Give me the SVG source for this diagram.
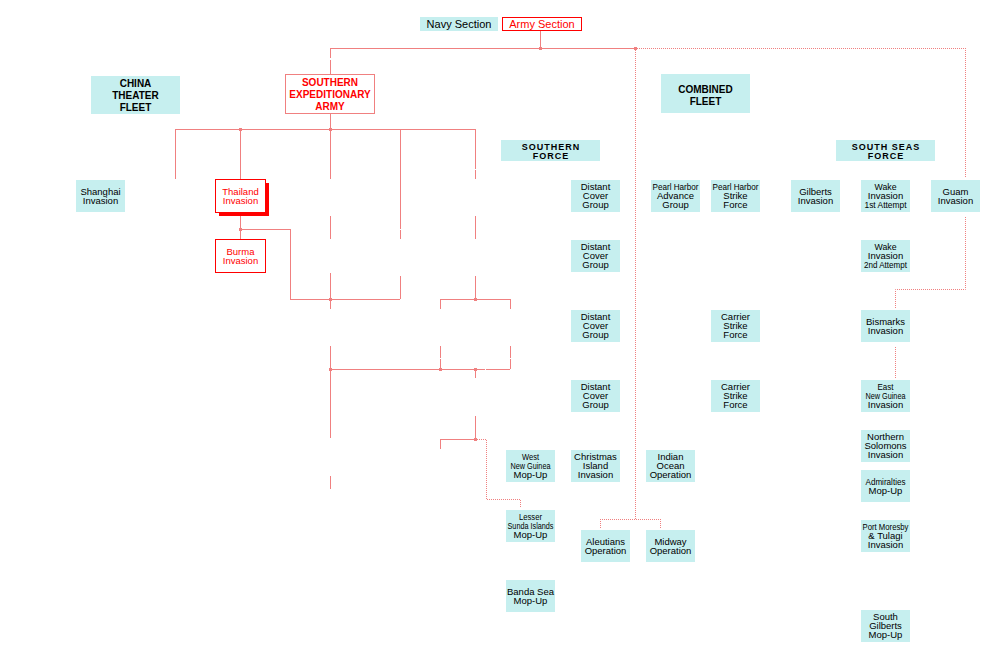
<svg xmlns="http://www.w3.org/2000/svg" width="1000" height="650" viewBox="0 0 1000 650">
<style>
.bg{fill:#ffffff}
.box{fill:#c6efef}
.t{font-family:"Liberation Sans",Arial,sans-serif;font-size:9.5px;text-anchor:middle;fill:#000}
.h{font-family:"Liberation Sans",Arial,sans-serif;font-size:10px;font-weight:bold;text-anchor:middle;fill:#000}
.hs{font-family:"Liberation Sans",Arial,sans-serif;font-size:9px;font-weight:bold;text-anchor:middle;fill:#000;letter-spacing:1px}
.leg{font-family:"Liberation Sans",Arial,sans-serif;font-size:11px;text-anchor:middle}
.red{fill:#ff0000}
.ln{stroke:#f08080;stroke-width:1;fill:none}
.dt{stroke:#f08080;stroke-width:1;fill:none;stroke-dasharray:1 1}
.dot{fill:#f08080}
</style>
<rect class="bg" x="0" y="0" width="1000" height="650"/>

<g id="connectors">
<path class="ln" d="M330.5,48 V58 M330.5,60 V74 M330,48.5 H635 M540.5,31 V48 M330.5,113 V129 M175,129.5 H475 M175.5,129 V179 M240.5,129 V180 M330.5,129 V179 M330.5,216 V239 M330.5,273 V309 M330.5,346 V438 M330.5,476 V489 M400.5,129 V229 M400.5,230 V239 M400.5,276 V299 M290,299.5 H400 M240.5,212 V240 M240,229.5 H290 M290.5,229 V299 M475.5,129 V169 M475.5,170 V179 M475.5,216 V239 M475.5,276 V299 M440,299.5 H510 M440.5,299 V309 M510.5,299 V309 M440.5,346 V358 M440.5,359 V369 M510.5,346 V358 M510.5,359 V369 M330,369.5 H485 M486,369.5 H510 M475.5,369 V378 M475.5,416 V439 M440,439.5 H475 M440.5,439 V449"/>
<path class="dt" d="M635,48.5 H965.5 M965.5,48 V178 M965.5,217 V289.5 H895.5 V308 M895.5,347 V378 M635.5,48 V519.5 M600,519.5 H660 M600.5,519 V528 M660.5,519 V528 M475,439.5 H486.5 V499.5 H520.5 V508"/>
<rect class="dot" x="539" y="47" width="3" height="3"/>
<rect class="dot" x="634" y="47" width="3" height="3"/>
<rect class="dot" x="239" y="128" width="3" height="3"/>
<rect class="dot" x="329" y="128" width="3" height="3"/>
<rect class="dot" x="239" y="228" width="3" height="3"/>
<rect class="dot" x="329" y="298" width="3" height="3"/>
<rect class="dot" x="474" y="298" width="3" height="3"/>
<rect class="dot" x="329" y="368" width="3" height="3"/>
<rect class="dot" x="439" y="368" width="3" height="3"/>
<rect class="dot" x="474" y="368" width="3" height="3"/>
<rect class="dot" x="474" y="438" width="3" height="3"/>
</g>

<g id="legend-navy"><rect class="box" x="420" y="17" width="78" height="14"/><text class="leg" x="459" y="28" fill="#000">Navy Section</text></g>
<g id="legend-army"><rect x="502.5" y="17.5" width="79" height="13" fill="#fff" stroke="#ff0000"/><text class="leg red" x="542" y="28">Army Section</text></g>

<g id="china-theater-fleet"><rect class="box" x="91" y="76" width="89" height="38"/><text class="h" x="135.5" y="86.5">CHINA</text><text class="h" x="135.5" y="98.5">THEATER</text><text class="h" x="135.5" y="110.5">FLEET</text></g>
<g id="southern-expeditionary-army"><rect x="285.5" y="74.5" width="89" height="39" fill="#fff" stroke="#f08080"/><text class="h red" x="330" y="85.5">SOUTHERN</text><text class="h red" x="330" y="97.5">EXPEDITIONARY</text><text class="h red" x="330" y="109.5">ARMY</text></g>
<g id="combined-fleet"><rect class="box" x="661" y="74" width="89" height="39"/><text class="h" x="705.5" y="92.5">COMBINED</text><text class="h" x="705.5" y="104.5">FLEET</text></g>
<g id="southern-force"><rect class="box" x="501" y="140" width="99" height="21"/><text class="hs" x="551" y="150">SOUTHERN</text><text class="hs" x="551" y="159">FORCE</text></g>
<g id="south-seas-force"><rect class="box" x="836" y="140" width="99" height="21"/><text class="hs" x="886" y="150">SOUTH SEAS</text><text class="hs" x="886" y="159">FORCE</text></g>

<g id="shanghai"><rect class="box" x="76" y="180" width="49" height="32"/><text class="t" x="100.5" y="195">Shanghai</text><text class="t" x="100.5" y="204">Invasion</text></g>
<g id="thailand"><rect x="219" y="183" width="50" height="33" fill="#ff0000"/><rect x="215.5" y="179.5" width="50" height="33" fill="#fff" stroke="#ff0000"/><text class="t red" x="240.5" y="195">Thailand</text><text class="t red" x="240.5" y="204">Invasion</text></g>
<g id="burma"><rect x="215.5" y="239.5" width="50" height="33" fill="#fff" stroke="#ff0000"/><text class="t red" x="240.5" y="255">Burma</text><text class="t red" x="240.5" y="264">Invasion</text></g>

<g id="distant-cover-1"><rect class="box" x="571" y="180" width="49" height="32"/><text class="t" x="595.5" y="190">Distant</text><text class="t" x="595.5" y="199">Cover</text><text class="t" x="595.5" y="208">Group</text></g>
<g id="distant-cover-2"><rect class="box" x="571" y="240" width="49" height="32"/><text class="t" x="595.5" y="250">Distant</text><text class="t" x="595.5" y="259">Cover</text><text class="t" x="595.5" y="268">Group</text></g>
<g id="distant-cover-3"><rect class="box" x="571" y="310" width="49" height="32"/><text class="t" x="595.5" y="320">Distant</text><text class="t" x="595.5" y="329">Cover</text><text class="t" x="595.5" y="338">Group</text></g>
<g id="distant-cover-4"><rect class="box" x="571" y="380" width="49" height="32"/><text class="t" x="595.5" y="390">Distant</text><text class="t" x="595.5" y="399">Cover</text><text class="t" x="595.5" y="408">Group</text></g>
<g id="christmas-island"><rect class="box" x="571" y="450" width="49" height="32"/><text class="t" x="595.5" y="460">Christmas</text><text class="t" x="595.5" y="469">Island</text><text class="t" x="595.5" y="478">Invasion</text></g>
<g id="west-new-guinea"><rect class="box" x="506" y="450" width="49" height="32"/><text class="t" x="530.5" y="460" textLength="17" lengthAdjust="spacingAndGlyphs">West</text><text class="t" x="530.5" y="469" textLength="40" lengthAdjust="spacingAndGlyphs">New Guinea</text><text class="t" x="530.5" y="478">Mop-Up</text></g>
<g id="lesser-sunda"><rect class="box" x="506" y="510" width="49" height="32"/><text class="t" x="530.5" y="520" textLength="23" lengthAdjust="spacingAndGlyphs">Lesser</text><text class="t" x="530.5" y="529" textLength="46" lengthAdjust="spacingAndGlyphs">Sunda Islands</text><text class="t" x="530.5" y="538">Mop-Up</text></g>
<g id="banda-sea"><rect class="box" x="506" y="580" width="49" height="32"/><text class="t" x="530.5" y="595">Banda Sea</text><text class="t" x="530.5" y="604">Mop-Up</text></g>
<g id="indian-ocean"><rect class="box" x="646" y="450" width="49" height="32"/><text class="t" x="670.5" y="460">Indian</text><text class="t" x="670.5" y="469">Ocean</text><text class="t" x="670.5" y="478">Operation</text></g>
<g id="aleutians"><rect class="box" x="581" y="530" width="49" height="32"/><text class="t" x="605.5" y="545">Aleutians</text><text class="t" x="605.5" y="554">Operation</text></g>
<g id="midway"><rect class="box" x="646" y="530" width="49" height="32"/><text class="t" x="670.5" y="545">Midway</text><text class="t" x="670.5" y="554">Operation</text></g>

<g id="pearl-harbor-advance"><rect class="box" x="651" y="180" width="49" height="32"/><text class="t" x="675.5" y="190" textLength="46" lengthAdjust="spacingAndGlyphs">Pearl Harbor</text><text class="t" x="675.5" y="199">Advance</text><text class="t" x="675.5" y="208">Group</text></g>
<g id="pearl-harbor-strike"><rect class="box" x="711" y="180" width="49" height="32"/><text class="t" x="735.5" y="190" textLength="46" lengthAdjust="spacingAndGlyphs">Pearl Harbor</text><text class="t" x="735.5" y="199">Strike</text><text class="t" x="735.5" y="208">Force</text></g>
<g id="carrier-strike-1"><rect class="box" x="711" y="310" width="49" height="32"/><text class="t" x="735.5" y="320">Carrier</text><text class="t" x="735.5" y="329">Strike</text><text class="t" x="735.5" y="338">Force</text></g>
<g id="carrier-strike-2"><rect class="box" x="711" y="380" width="49" height="32"/><text class="t" x="735.5" y="390">Carrier</text><text class="t" x="735.5" y="399">Strike</text><text class="t" x="735.5" y="408">Force</text></g>

<g id="gilberts"><rect class="box" x="791" y="180" width="49" height="32"/><text class="t" x="815.5" y="195">Gilberts</text><text class="t" x="815.5" y="204">Invasion</text></g>
<g id="wake-1"><rect class="box" x="861" y="180" width="49" height="32"/><text class="t" x="885.5" y="190" textLength="22" lengthAdjust="spacingAndGlyphs">Wake</text><text class="t" x="885.5" y="199">Invasion</text><text class="t" x="885.5" y="208" textLength="42" lengthAdjust="spacingAndGlyphs">1st Attempt</text></g>
<g id="guam"><rect class="box" x="931" y="180" width="49" height="32"/><text class="t" x="955.5" y="195">Guam</text><text class="t" x="955.5" y="204">Invasion</text></g>
<g id="wake-2"><rect class="box" x="861" y="240" width="49" height="32"/><text class="t" x="885.5" y="250" textLength="22" lengthAdjust="spacingAndGlyphs">Wake</text><text class="t" x="885.5" y="259">Invasion</text><text class="t" x="885.5" y="268" textLength="43" lengthAdjust="spacingAndGlyphs">2nd Attempt</text></g>
<g id="bismarks"><rect class="box" x="861" y="310" width="49" height="32"/><text class="t" x="885.5" y="325">Bismarks</text><text class="t" x="885.5" y="334">Invasion</text></g>
<g id="east-new-guinea"><rect class="box" x="861" y="380" width="49" height="32"/><text class="t" x="885.5" y="390" textLength="16" lengthAdjust="spacingAndGlyphs">East</text><text class="t" x="885.5" y="399" textLength="40" lengthAdjust="spacingAndGlyphs">New Guinea</text><text class="t" x="885.5" y="408">Invasion</text></g>
<g id="northern-solomons"><rect class="box" x="861" y="430" width="49" height="32"/><text class="t" x="885.5" y="440">Northern</text><text class="t" x="885.5" y="449">Solomons</text><text class="t" x="885.5" y="458">Invasion</text></g>
<g id="admiralties"><rect class="box" x="861" y="470" width="49" height="32"/><text class="t" x="885.5" y="485" textLength="40" lengthAdjust="spacingAndGlyphs">Admiralties</text><text class="t" x="885.5" y="494">Mop-Up</text></g>
<g id="port-moresby"><rect class="box" x="861" y="520" width="49" height="32"/><text class="t" x="885.5" y="530" textLength="46" lengthAdjust="spacingAndGlyphs">Port Moresby</text><text class="t" x="885.5" y="539">&amp; Tulagi</text><text class="t" x="885.5" y="548">Invasion</text></g>
<g id="south-gilberts"><rect class="box" x="861" y="610" width="49" height="32"/><text class="t" x="885.5" y="620">South</text><text class="t" x="885.5" y="629">Gilberts</text><text class="t" x="885.5" y="638">Mop-Up</text></g>
</svg>
